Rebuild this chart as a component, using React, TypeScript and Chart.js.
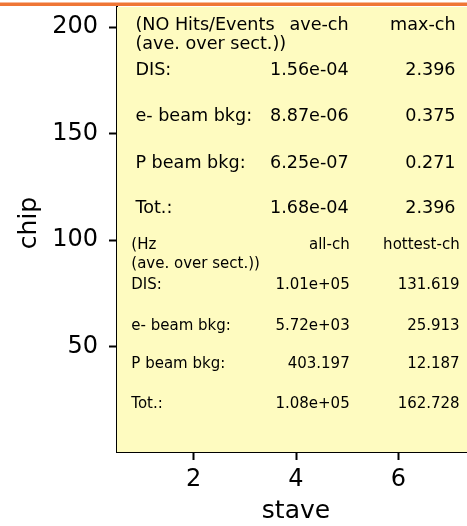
import React, { useEffect, useRef } from "react";
import { Chart, registerables } from "chart.js";

Chart.register(...registerables);

// Axis ranges and ticks
const xRange = [0.5, 7.5];
const yRange = [0.5, 209.5];
const xTicks = [2, 4, 6];
const yTicks = [50, 100, 150, 200];

// Top table (hits per event)
const topHeader = ["(NO Hits/Events", "(ave. over sect.))", "ave-ch", "max-ch"];
const topLabels = ["DIS:", "e- beam bkg:", "P beam bkg:", "Tot.:"];
const topAve = ["1.56e-04", "8.87e-06", "6.25e-07", "1.68e-04"];
const topMax = ["2.396", "0.375", "0.271", "2.396"];

// Bottom table (rates in Hz)
const hzHeader = ["(Hz", "(ave. over sect.))", "all-ch", "hottest-ch"];
const hzLabels = ["DIS:", "e- beam bkg:", "P beam bkg:", "Tot.:"];
const hzAll = ["1.01e+05", "5.72e+03", "403.197", "1.08e+05"];
const hzHot = ["131.619", "25.913", "12.187", "162.728"];

// Text placement in data coordinates
const topCols = [0.86, 5.03, 7.12];
const topRowsY = [200.8, 191.9, 179.9, 158.1, 136.2, 115.1];
const hzCols = [0.78, 5.05, 7.2];
const hzRowsY = [97.5, 88.9, 79.1, 59.5, 41.6, 23.2];

const FONT = "'DejaVu Sans', sans-serif";
const YELLOW = "#fefbc0";
const ORANGE = "#ef7636";
const INK = "#000";

const decorPlugin = {
  id: "decor",
  beforeDatasetsDraw(chart: any) {
    const { ctx, chartArea } = chart;
    ctx.save();
    ctx.fillStyle = YELLOW;
    ctx.fillRect(chartArea.left, chartArea.top, chartArea.right - chartArea.left, chartArea.bottom - chartArea.top);
    ctx.restore();
  },
  afterDraw(chart: any) {
    const { ctx } = chart;
    const xs = chart.scales.x;
    const ys = chart.scales.y;
    ctx.save();
    ctx.fillStyle = INK;
    ctx.textBaseline = "middle";

    const drawTable = (
      header: string[],
      labels: string[],
      a: string[],
      b: string[],
      cols: number[],
      rows: number[],
      size: number
    ) => {
      ctx.font = `${size}px ${FONT}`;
      const x0 = xs.getPixelForValue(cols[0]);
      const x1 = xs.getPixelForValue(cols[1]);
      const x2 = xs.getPixelForValue(cols[2]);
      ctx.textAlign = "left";
      ctx.fillText(header[0], x0, ys.getPixelForValue(rows[0]));
      ctx.fillText(header[1], x0, ys.getPixelForValue(rows[1]));
      ctx.textAlign = "right";
      ctx.fillText(header[2], x1, ys.getPixelForValue(rows[0]));
      ctx.fillText(header[3], x2, ys.getPixelForValue(rows[0]));
      for (let i = 0; i < labels.length; i++) {
        const y = ys.getPixelForValue(rows[i + 2]);
        ctx.textAlign = "left";
        ctx.fillText(labels[i], x0, y);
        ctx.textAlign = "right";
        ctx.fillText(a[i], x1, y);
        ctx.fillText(b[i], x2, y);
      }
    };

    drawTable(topHeader, topLabels, topAve, topMax, topCols, topRowsY, 17.6);
    drawTable(hzHeader, hzLabels, hzAll, hzHot, hzCols, hzRowsY, 15);

    // y-axis title
    ctx.save();
    ctx.font = `25px ${FONT}`;
    ctx.textAlign = "center";
    ctx.textBaseline = "middle";
    ctx.translate(29, 223);
    ctx.rotate(-Math.PI / 2);
    ctx.fillText("chip", 0, 0);
    ctx.restore();

    // orange band at the top
    ctx.fillStyle = ORANGE;
    ctx.fillRect(0, 2.5, chart.width, 3.5);
    ctx.restore();
  },
};

export default function App() {
  const ref = useRef<HTMLCanvasElement>(null);
  useEffect(() => {
    if (!ref.current) return;
    const chart = new Chart(ref.current, {
      type: "scatter",
      data: { datasets: [{ data: [] as any[] }] },
      options: {
        animation: false,
        responsive: false,
        maintainAspectRatio: false,
        layout: { padding: { top: 7, left: 0, right: 0, bottom: 0 } },
        plugins: { legend: { display: false }, tooltip: { enabled: false } },
        scales: {
          x: {
            type: "linear",
            min: xRange[0],
            max: xRange[1],
            afterBuildTicks: (s: any) => {
              s.ticks = xTicks.map((v) => ({ value: v }));
            },
            afterFit: (s: any) => {
              s.height = 74;
              s.paddingLeft = 0;
              s.paddingRight = 0;
            },
            grid: { display: true, drawOnChartArea: false, drawTicks: true, tickLength: 8, tickWidth: 2, tickColor: INK },
            border: { display: true, color: INK, width: 2 },
            ticks: { color: INK, font: { family: FONT, size: 24 }, padding: 5, maxRotation: 0 },
            title: { display: true, text: "stave", color: INK, font: { family: FONT, size: 25 }, padding: { top: 3, bottom: 0 } },
          },
          y: {
            type: "linear",
            min: yRange[0],
            max: yRange[1],
            afterBuildTicks: (s: any) => {
              s.ticks = yTicks.map((v) => ({ value: v }));
            },
            afterFit: (s: any) => {
              s.width = 117;
              s.paddingTop = 0;
              s.paddingBottom = 0;
            },
            grid: { display: true, drawOnChartArea: false, drawTicks: true, tickLength: 8, tickWidth: 2, tickColor: INK },
            border: { display: true, color: INK, width: 2 },
            ticks: { color: INK, font: { family: FONT, size: 24 }, padding: 11 },
          },
        },
      },
      plugins: [decorPlugin],
    });
    return () => chart.destroy();
  }, []);
  return (
    <div style={{ position: "fixed", left: 0, top: 0, width: 467, height: 526, overflow: "hidden", background: "#fff" }}>
      <canvas ref={ref} width={475} height={526} style={{ display: "block", width: 475, height: 526 }} />
    </div>
  );
}
